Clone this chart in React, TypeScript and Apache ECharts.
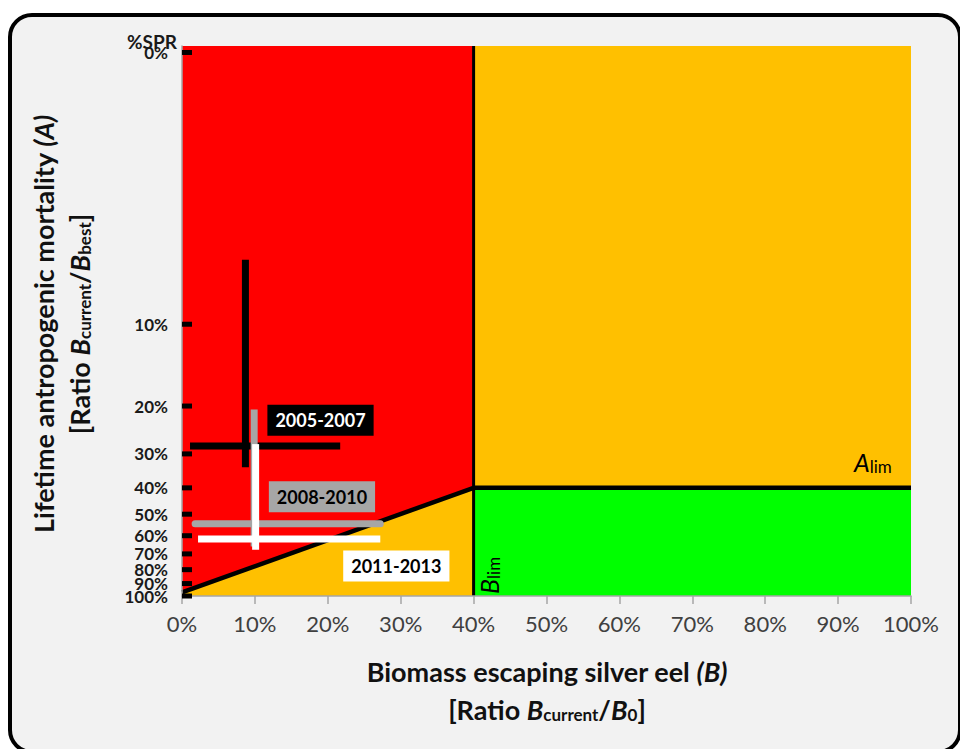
import React, { useEffect, useRef } from "react";
import * as echarts from "echarts";

// Tick labels (%SPR) and their lifetime mortality value A = -ln(SPR)
const sprLabels = ["0%", "10%", "20%", "30%", "40%", "50%", "60%", "70%", "80%", "90%", "100%"];
const sprValues = [0.01, 0.1, 0.2, 0.3, 0.4, 0.5, 0.6, 0.7, 0.8, 0.9, 1.0];

// Reference points
const bLim = 40; // % of B0
const aLim = -Math.log(0.4); // lifetime mortality limit
const aMax = 4.66;
const limitLineStart = [0, 0.03];

// Assessment periods (B in %, A lifetime mortality)
const periods = ["2005-2007", "2008-2010", "2011-2013"];
const bCenter = [8.7, 9.9, 10.1];
const bLow = [1.1, 1.8, 2.2];
const bHigh = [21.7, 27.2, 27.2];
const aCenter = [1.27, 0.612, 0.483];
const aLow = [1.09, 0.42, 0.392];
const aHigh = [2.85, 1.58, 1.287];
const periodColors = ["#000000", "#a6a6a6", "#ffffff"];
const periodTextColors = ["#ffffff", "#000000", "#000000"];
// label anchors (B %, A)
const labelB = [19.0, 19.2, 29.4];
const labelA = [1.49, 0.84, 0.255];

const FONT = "Lato, 'Open Sans', sans-serif";

const aOf = (s: number) => (s >= 1 ? 0 : -Math.log(s));

export default function App() {
  const ref = useRef<HTMLDivElement>(null);
  useEffect(() => {
    document.body.style.margin = "0";
    const chart = echarts.init(ref.current!, null, { renderer: "svg" });

    const crossSeries: any[] = [];
    periods.forEach((p, i) => {
      crossSeries.push({
        type: "line",
        name: p + " B",
        data: [
          [bLow[i], aCenter[i]],
          [bHigh[i], aCenter[i]],
        ],
        symbol: "none",
        lineStyle: { color: periodColors[i], width: 7, cap: i === 1 ? "round" : "butt" },
        z: 10 + i,
        silent: true,
      });
      crossSeries.push({
        type: "line",
        name: p + " A",
        data: [
          [bCenter[i], aLow[i]],
          [bCenter[i], aHigh[i]],
        ],
        symbol: "none",
        lineStyle: { color: periodColors[i], width: 7, cap: "butt" },
        z: 10 + i,
        silent: true,
      });
    });

    const labelSeries = {
      type: "scatter",
      symbolSize: 0,
      z: 20,
      itemStyle: { opacity: 1 },
      data: periods.map((p, i) => ({
        value: [labelB[i], labelA[i]],
        label: {
          show: true,
          position: "inside",
          formatter: p,
          color: periodTextColors[i],
          backgroundColor: periodColors[i],
          opacity: 1,
          fontFamily: FONT,
          fontWeight: "bold",
          fontSize: 18,
          padding: [7, 8, 6, 8],
        },
      })),
    };

    // y-axis tick marks + %SPR labels, placed through the axis scale
    const tickSeries = {
      type: "scatter",
      name: "spr ticks",
      clip: false,
      z: 25,
      silent: true,
      symbol: "rect",
      symbolSize: [10, 5],
      symbolOffset: [5, 0],
      itemStyle: { color: "#000000", opacity: 1 },
      label: {
        show: true,
        position: "left",
        distance: 14,
        color: "#1a1a1a",
        fontFamily: FONT,
        fontWeight: "bold",
        fontSize: 17,
        formatter: (p: any) => sprLabels[p.dataIndex],
      },
      data: sprValues.map((s) => [0, aOf(s)]),
    };

    const subRich = (size: number, lh: number) => ({
      b: { fontFamily: FONT, fontWeight: "bold", fontSize: size, fill: "#111", lineHeight: lh, verticalAlign: "bottom" },
      bi: { fontFamily: FONT, fontWeight: "bold", fontStyle: "italic", fontSize: size, fill: "#111", lineHeight: lh, verticalAlign: "bottom" },
      sub: { fontFamily: FONT, fontWeight: "bold", fontSize: Math.round(size * 0.64), fill: "#111", lineHeight: lh - 6, verticalAlign: "bottom" },
    });

    chart.setOption({
      animation: false,
      backgroundColor: "#ffffff",
      grid: { left: 182, right: 49, top: 46, bottom: 153 },
      xAxis: {
        type: "value",
        min: 0,
        max: 100,
        interval: 10,
        z: 20,
        axisLine: { show: true, lineStyle: { color: "#a6a6a6", width: 1.5 } },
        axisTick: { show: true, length: 8, lineStyle: { color: "#a6a6a6", width: 1.5 } },
        splitLine: { show: false },
        axisLabel: {
          formatter: "{value}%",
          color: "#404040",
          fontFamily: FONT,
          fontSize: 22,
          margin: 16,
        },
      },
      yAxis: {
        type: "value",
        min: 0,
        max: aMax,
        z: 20,
        axisLine: { show: true, onZero: false, lineStyle: { color: "#a6a6a6", width: 1.5 } },
        axisTick: { show: false },
        splitLine: { show: false },
        axisLabel: { show: false },
      },
      series: [
        {
          type: "line",
          name: "zones",
          data: [],
          silent: true,
          markArea: {
            silent: true,
            data: [
              [
                { xAxis: 0, yAxis: 0, itemStyle: { color: "#ff0000" } },
                { xAxis: bLim, yAxis: aMax },
              ],
              [
                { xAxis: bLim, yAxis: aLim, itemStyle: { color: "#ffc000" } },
                { xAxis: 100, yAxis: aMax },
              ],
              [
                { xAxis: bLim, yAxis: 0, itemStyle: { color: "#00ff00" } },
                { xAxis: 100, yAxis: aLim },
              ],
            ],
            itemStyle: { opacity: 1 },
          },
          z: 1,
        },
        {
          type: "line",
          name: "limit slope",
          data: [limitLineStart, [bLim, aLim]],
          symbol: "none",
          lineStyle: { color: "#000000", width: 4.5 },
          areaStyle: { color: "#ffc000", opacity: 1, origin: "start" },
          z: 3,
          silent: true,
        },
        {
          type: "line",
          name: "Alim",
          data: [
            [bLim, aLim],
            [100, aLim],
          ],
          symbol: "none",
          lineStyle: { color: "#000000", width: 4.5 },
          z: 4,
          silent: true,
        },
        {
          type: "line",
          name: "Blim",
          data: [
            [bLim, 0],
            [bLim, aMax],
          ],
          symbol: "none",
          lineStyle: { color: "#000000", width: 3 },
          z: 4,
          silent: true,
        },
        ...crossSeries,
        labelSeries,
        tickSeries,
      ],
      graphic: [
        {
          type: "rect",
          z: -10,
          shape: { x: 10, y: 15, width: 950, height: 737, r: 22 },
          style: { fill: "#f2f2f2", stroke: "#000000", lineWidth: 4 },
          silent: true,
        },
        {
          type: "text",
          x: 152,
          y: 41,
          z: 30,
          style: {
            text: "%SPR",
            font: `bold 19px ${FONT}`,
            fill: "#1a1a1a",
            align: "center",
            verticalAlign: "middle",
          },
        },
        {
          type: "text",
          x: 854,
          y: 462,
          z: 30,
          style: {
            text: "{a|A}{s|lim}",
            align: "left",
            verticalAlign: "middle",
            rich: {
              a: { fontFamily: FONT, fontStyle: "italic", fontSize: 25, fill: "#000", verticalAlign: "bottom" },
              s: { fontFamily: FONT, fontSize: 17, fill: "#000", verticalAlign: "bottom", padding: [8, 0, 0, 0] },
            },
          },
        },
        {
          type: "text",
          x: 489,
          y: 594,
          rotation: Math.PI / 2,
          z: 30,
          style: {
            text: "{a|B}{s|lim}",
            align: "left",
            verticalAlign: "middle",
            rich: {
              a: { fontFamily: FONT, fontStyle: "italic", fontSize: 25, fill: "#000", verticalAlign: "bottom" },
              s: { fontFamily: FONT, fontSize: 17, fill: "#000", verticalAlign: "bottom", padding: [8, 0, 0, 0] },
            },
          },
        },
        {
          type: "text",
          x: 547,
          y: 685,
          style: {
            text:
              "{b|Biomass escaping silver eel }{bi|(B)}\n{b|[Ratio }{bi|B}{sub|current}{b|/}{bi|B}{sub|0}{b|]}",
            align: "center",
            verticalAlign: "middle",
            rich: subRich(27, 38),
          },
        },
        {
          type: "text",
          x: 57,
          y: 324,
          rotation: Math.PI / 2,
          style: {
            text:
              "{b|Lifetime antropogenic mortality }{bi|(A)}\n{b|[Ratio }{bi|B}{sub|current}{b|/}{bi|B}{sub|best}{b|]}",
            align: "center",
            verticalAlign: "middle",
            rich: subRich(27, 36),
          },
        },
      ],
    });
    return () => chart.dispose();
  }, []);
  return <div ref={ref} style={{ width: 960, height: 749 }} />;
}
